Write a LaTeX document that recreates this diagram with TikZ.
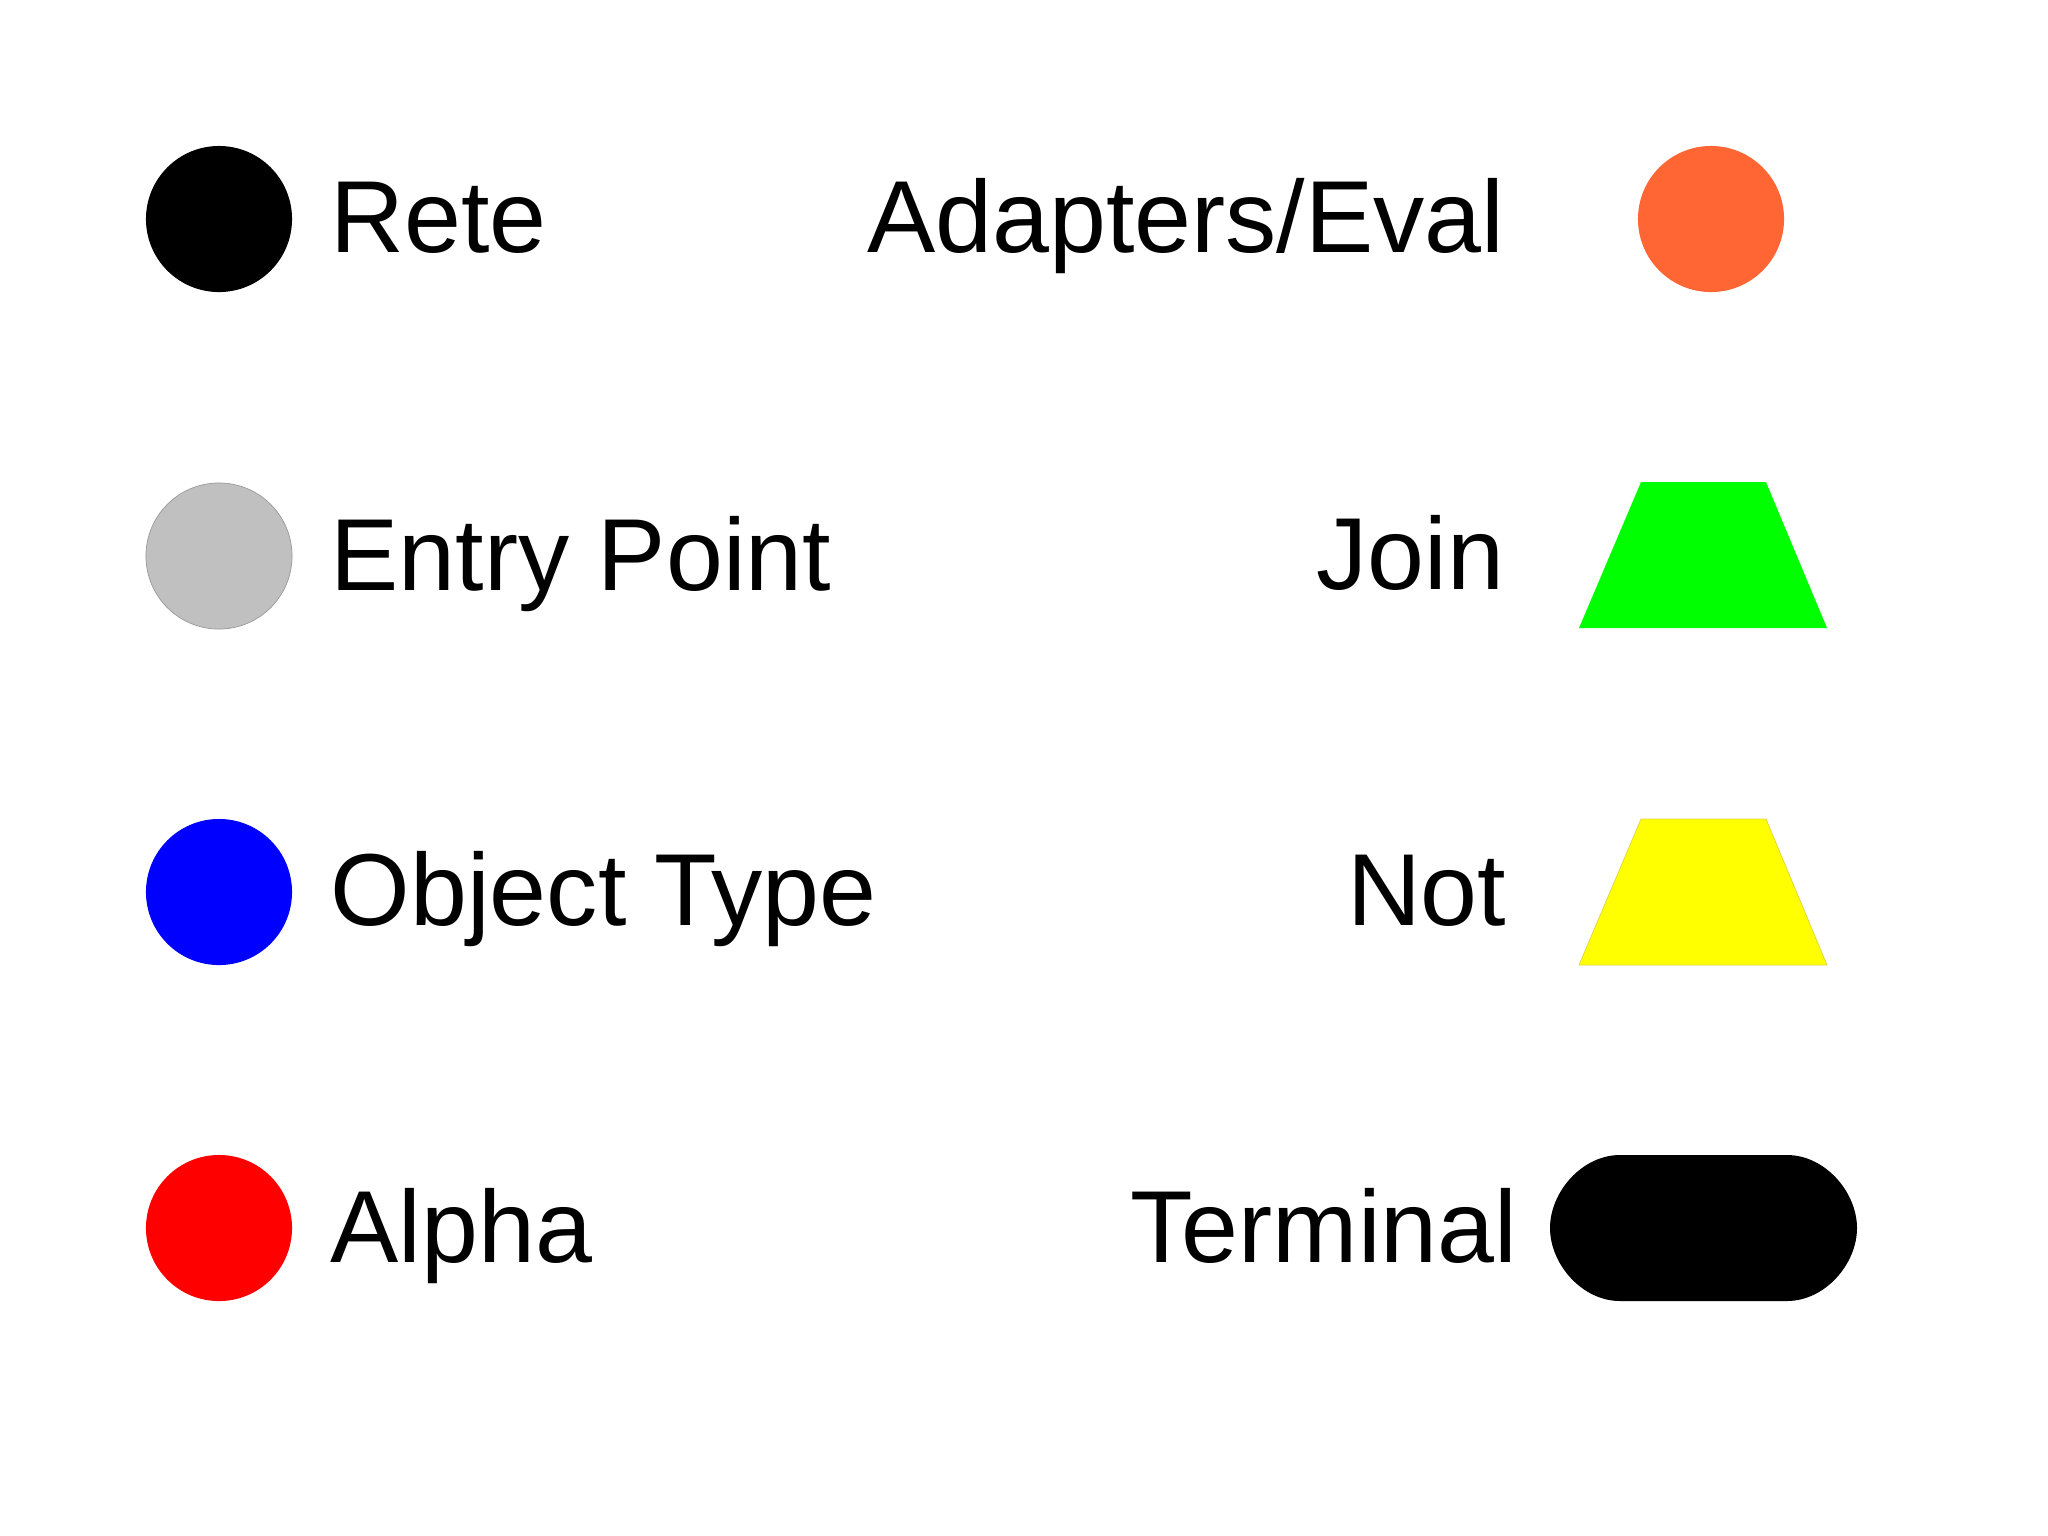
\documentclass[tikz,border=0pt]{standalone}
\usepackage{fontspec}
\setmainfont{Liberation Sans}
\usetikzlibrary{shapes}
\definecolor{reteorange}{HTML}{FF6633}
\definecolor{entrygray}{HTML}{C0C0C0}
\definecolor{joingreen}{HTML}{00FF00}
\definecolor{notyellow}{HTML}{FFFF00}
\tikzset{
    dot/.style = {circle, minimum size=1.46cm, inner sep=0pt},
    lbl/.style = {inner sep=0pt, font=\fontsize{29.1pt}{35pt}\selectfont},
    lleft/.style = {lbl, anchor=base west},
    lright/.style = {lbl, anchor=base east}
}

\begin{document}
\begin{tikzpicture}[x=0.01cm, y=-0.01cm]
                \useasboundingbox[fill=white] (0,0) rectangle (2048,1535);
                \node[dot, fill=black] (rete) at (219,219) {};
                \node[dot, fill=entrygray, draw=gray!80, very thin] (entry) at (219,556) {};
                \node[dot, fill=blue] (otn) at (219,892) {};
                \node[dot, fill=red] (alpha) at (219,1228) {};
                \node[dot, fill=reteorange] (eval) at (1711,219) {};
                \node[lleft] (tRete) at (330,252) {Rete};
                \node[lleft] (tEntry) at (330,590) {Entry Point};
                \node[lleft] (tOtn) at (330,925) {Object Type};
                \node[lleft] (tAlpha) at (330,1262) {Alpha};
                \node[lright] (tEval) at (1505,252) {Adapters/Eval};
                \node[lright] (tJoin) at (1505,589) {Join};
                \node[lright] (tNot) at (1507,925) {Not};
                \node[lright] (tTerm) at (1518,1262) {Terminal};
                \fill[joingreen] (1579,628) -- (1641,482) -- (1766,482) -- (1827,628) -- cycle;
                \filldraw[fill=notyellow, draw=yellow!70!gray, very thin] (1579,965) -- (1641,819) -- (1766,819) -- (1827,965) -- cycle;
                \fill[black] (1620,1155) -- (1787,1155) .. controls (1825,1155) and (1857,1192) .. (1857,1228)
                    .. controls (1857,1264) and (1825,1301) .. (1787,1301) -- (1620,1301)
                    .. controls (1582,1301) and (1550,1264) .. (1550,1228)
                    .. controls (1550,1192) and (1582,1155) .. (1620,1155) -- cycle;
            \end{tikzpicture}
\end{document}
